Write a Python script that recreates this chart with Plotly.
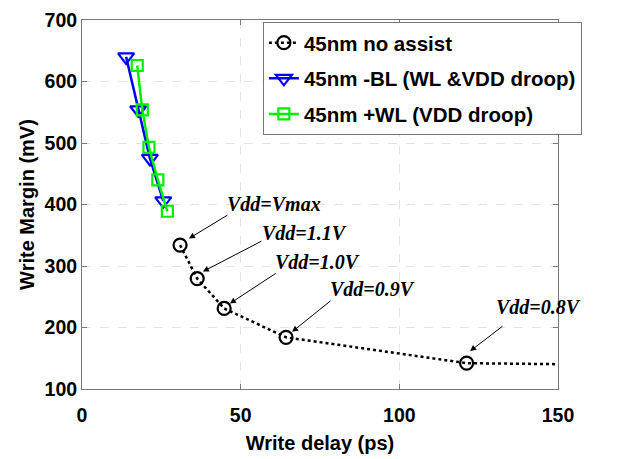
import plotly.graph_objects as go

# Data
noassist_x = [30.9, 36.3, 44.8, 64.3, 121.2, 165.0]
noassist_y = [334, 279.5, 231, 184, 142, 139.5]
negbl_x = [13.9, 17.7, 21.4, 25.6]
negbl_y = [640, 554, 475, 406]
poswl_x = [17.4, 19.0, 21.1, 23.9, 26.9]
poswl_y = [626, 554, 493, 440, 389]

labels = ["Vdd=Vmax", "Vdd=1.1V", "Vdd=1.0V", "Vdd=0.9V", "Vdd=0.8V"]
label_x = [60.5, 70.0, 74.2, 91.6, 143.7]
label_y = [401.6, 354, 306.8, 262.6, 232.6]
arrow_tail_x = [46.3, 57.0, 61.5, 78.8, 133.0]
arrow_tail_y = [384.2, 341.6, 289.5, 245.3, 204.0]
arrow_head_x = [33.7, 38.1, 46.6, 66.2, 122.3]
arrow_head_y = [344.7, 291.0, 239.0, 193.0, 161.6]

fig = go.Figure()
fig.add_trace(go.Scatter(
    x=noassist_x, y=noassist_y, mode="lines+markers", name="45nm no assist",
    line=dict(color="black", width=2.5, dash="dot"),
    marker=dict(symbol="circle-open", size=13, color="black", line=dict(width=2.2)),
    legendgroup="a",
))
fig.add_trace(go.Scatter(
    x=negbl_x, y=negbl_y, mode="lines+markers", name="45nm -BL (WL &VDD droop)",
    line=dict(color="#0000ff", width=2.5),
    marker=dict(symbol="triangle-down-open", size=14, color="#0000ff", line=dict(width=2.2)),
    legendgroup="b",
))
fig.add_trace(go.Scatter(
    x=poswl_x, y=poswl_y, mode="lines+markers", name="45nm +WL (VDD droop)",
    line=dict(color="#00ee00", width=2.5),
    marker=dict(symbol="square-open", size=11, color="#00ee00", line=dict(width=2.2)),
    legendgroup="c",
))

for t, lx, ly, tx, ty, hx, hy in zip(labels, label_x, label_y, arrow_tail_x, arrow_tail_y,
                                      arrow_head_x, arrow_head_y):
    fig.add_annotation(x=lx, y=ly, text=t, showarrow=False,
                       font=dict(family="Liberation Serif", size=20, color="black",
                                 weight="bold", style="italic"))
    fig.add_annotation(x=hx, y=hy, ax=tx, ay=ty, xref="x", yref="y", axref="x", ayref="y",
                       text="", showarrow=True, arrowhead=2, arrowsize=1.2,
                       arrowwidth=1, arrowcolor="black")

axis_common = dict(
    showline=True, linecolor="#777777", linewidth=1, mirror="ticks",
    ticks="inside", ticklen=5, tickcolor="#777777",
    showgrid=True, gridcolor="#e4e4e4", griddash="dash", gridwidth=1,
    zeroline=False, ticklabeloverflow="allow",
    tickfont=dict(family="Liberation Sans", size=19.5, color="black", weight="bold"),
)
fig.update_xaxes(range=[0, 150], tickvals=[0, 50, 100, 150], ticklabelstandoff=9, **axis_common,
                 title=dict(text="Write delay (ps)", standoff=10,
                            font=dict(family="Liberation Sans", size=20, color="black", weight="bold")))
fig.update_yaxes(range=[100, 700], tickvals=[100, 200, 300, 400, 500, 600, 700], **axis_common,
                 title=dict(text="Write Margin (mV)", standoff=4,
                            font=dict(family="Liberation Sans", size=20, color="black", weight="bold")))

fig.update_layout(
    width=619, height=459,
    margin=dict(l=82, r=61, t=9, b=70),
    paper_bgcolor="white", plot_bgcolor="white",
    showlegend=True,
    legend=dict(x=0.38, y=0.995, xanchor="left", yanchor="top",
                bgcolor="white", bordercolor="#777777", borderwidth=1,
                font=dict(family="Liberation Sans", size=20.5, color="black", weight="bold"),
                tracegroupgap=6),
)

fig.write_html("out.html")
